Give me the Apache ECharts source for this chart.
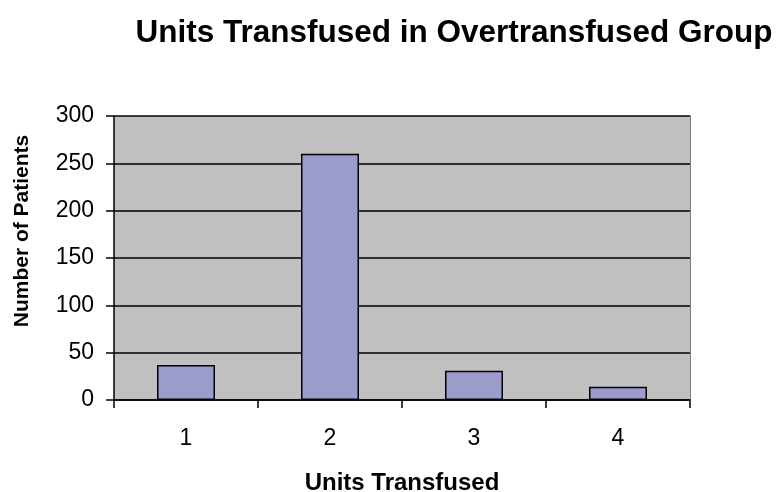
<!DOCTYPE html>
<html>
<head>
<meta charset="utf-8">
<script src="https://cdn.jsdelivr.net/npm/echarts@6/dist/echarts.min.js"></script>
<style>
  html, body { margin: 0; padding: 0; background: #fff; }
  #chart { width: 777px; height: 492px; }
</style>
</head>
<body>
<div id="chart"></div>
<script>
// data
var categories = ['1', '2', '3', '4']
var patients = [37, 260, 31, 14]
var yTicks = { min: 0, max: 300, interval: 50 }

var chart = echarts.init(document.getElementById('chart'))

var option = {
  animation: false,
  textStyle: { fontFamily: 'Liberation Sans, Arial, sans-serif' },
  title: {
    text: 'Units Transfused in Overtransfused Group',
    left: 449,
    top: 12,
    textAlign: 'center',
    textStyle: { fontSize: 31.5, fontWeight: 'bold', color: '#000' }
  },
  grid: {
    left: 114,
    right: 87,
    top: 116,
    bottom: 92,
    outerBoundsMode: 'none',
    containLabel: false,
    show: true,
    backgroundColor: '#c0c0c0',
    borderWidth: 0
  },
  xAxis: {
    type: 'category',
    data: categories,
    name: 'Units Transfused',
    nameLocation: 'middle',
    nameGap: 71,
    nameTextStyle: { fontSize: 24, fontWeight: 'bold', color: '#000' },
    axisLine: { lineStyle: { color: '#000', width: 1.5 } },
    axisTick: { show: true, length: 8, lineStyle: { color: '#000', width: 1.5 } },
    axisLabel: { fontSize: 23, color: '#000', margin: 27 }
  },
  yAxis: [{
    type: 'value',
    min: yTicks.min,
    max: yTicks.max,
    interval: yTicks.interval,
    name: 'Number of Patients',
    nameLocation: 'middle',
    nameGap: 81,
    nameTextStyle: { fontSize: 21, fontWeight: 'bold', color: '#000', padding: [0, 0, 0, 54] },
    axisLine: { show: true, lineStyle: { color: '#000', width: 1.5 } },
    axisTick: { show: true, length: 8, lineStyle: { color: '#000', width: 1.5 } },
    axisLabel: { fontSize: 23, color: '#000', margin: 20 },
    splitLine: { show: true, lineStyle: { color: '#000', width: 1.5 } }
  }, {
    // thin border on the right side of the plot
    type: 'value',
    position: 'right',
    min: yTicks.min,
    max: yTicks.max,
    axisLine: { show: true, lineStyle: { color: '#808080', width: 1 } },
    axisTick: { show: false },
    axisLabel: { show: false },
    splitLine: { show: false }
  }],
  series: [{
    type: 'bar',
    data: patients,
    barWidth: 58,
    itemStyle: { color: '#9c9ccc', borderColor: '#000', borderWidth: 1.5 }
  }]
}

chart.setOption(option)
</script>
</body>
</html>
